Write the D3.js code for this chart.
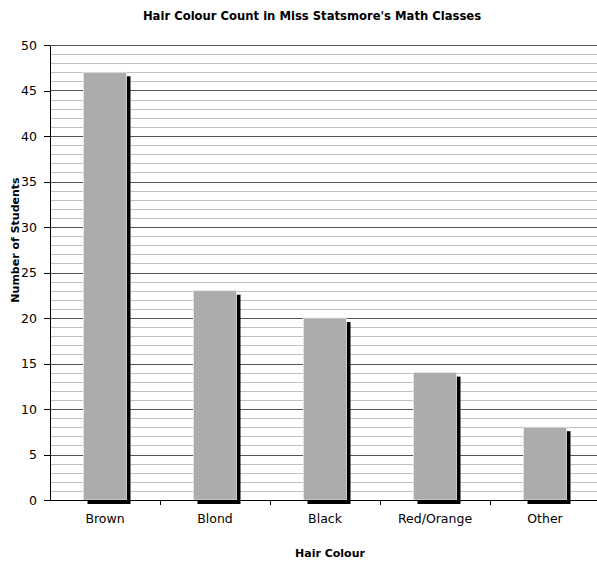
<!DOCTYPE html>
<meta charset="utf-8">
<style>
body { margin: 0; background: #fff; }
text { font-family: "DejaVu Sans", Verdana, sans-serif; }
.axis path, .axis line { stroke: #000; shape-rendering: crispEdges; }
.axis text { font-size: 12.5px; fill: #000; }
</style>
<body>
<script src="https://d3js.org/d3.v7.min.js"></script>
<script>
var categories = ["Brown", "Blond", "Black", "Red/Orange", "Other"];
var counts = [47, 23, 20, 14, 8];
var yTicks = [0, 5, 10, 15, 20, 25, 30, 35, 40, 45, 50];

var W = 597, H = 561;
var margin = {top: 45, right: -3, bottom: 61, left: 50},
    width = W - margin.left - margin.right,
    height = H - margin.top - margin.bottom;

var svg = d3.select("body").append("svg")
    .attr("width", W)
    .attr("height", H);

var g = svg.append("g")
    .attr("transform", "translate(" + margin.left + "," + margin.top + ")");

var x = d3.scaleBand().domain(categories).range([0, width]);
var y = d3.scaleLinear().domain([0, 50]).range([height, 0]);

// minor gridlines
g.selectAll(".minor")
  .data(d3.range(1, 50).filter(function(v) { return v % 5 != 0; }))
  .enter().append("line")
    .attr("x1", 0).attr("x2", width)
    .attr("y1", function(d) { return Math.round(y(d)) + 0.5; })
    .attr("y2", function(d) { return Math.round(y(d)) + 0.5; })
    .attr("stroke", "#c0c0c0");

// major gridlines
g.selectAll(".major")
  .data(yTicks.slice(1))
  .enter().append("line")
    .attr("x1", 0).attr("x2", width)
    .attr("y1", function(d) { return Math.round(y(d)) + 0.5; })
    .attr("y2", function(d) { return Math.round(y(d)) + 0.5; })
    .attr("stroke", "#555");

var barW = 43, shadow = 4;
function barX(d) { return x(d) + x.bandwidth() / 2 - barW / 2; }

// shadows
g.selectAll(".shadow")
  .data(counts)
  .enter().append("rect")
    .attr("x", function(d, i) { return barX(categories[i]) + shadow; })
    .attr("y", function(d) { return y(d) + shadow; })
    .attr("width", barW)
    .attr("height", function(d) { return height - y(d); })
    .attr("fill", "#000");

// bars
g.selectAll(".bar")
  .data(counts)
  .enter().append("rect")
    .attr("x", function(d, i) { return barX(categories[i]); })
    .attr("y", function(d) { return y(d); })
    .attr("width", barW)
    .attr("height", function(d) { return height - y(d); })
    .attr("fill", "#acacac")
    .attr("stroke", "#e6e6e6")
    .attr("stroke-width", 0.8);

g.append("g")
    .attr("class", "axis")
    .attr("transform", "translate(0," + height + ")")
    .call(d3.axisBottom(x).tickSize(0).tickPadding(14))
    .call(function(a) { a.select(".domain").remove(); });

// x axis line and ticks between categories
g.append("line")
    .attr("x1", 0).attr("x2", width)
    .attr("y1", height + 0.5).attr("y2", height + 0.5)
    .attr("stroke", "#000");
g.selectAll(".xtick")
  .data(categories.slice(1))
  .enter().append("line")
    .attr("x1", function(d) { return Math.round(x(d)) + 0.5; })
    .attr("x2", function(d) { return Math.round(x(d)) + 0.5; })
    .attr("y1", height).attr("y2", height + 5)
    .attr("stroke", "#000");

g.append("g")
    .attr("class", "axis")
    .call(d3.axisLeft(y).tickValues(yTicks).tickSize(6).tickSizeOuter(0).tickPadding(7))
    .call(function(a) { a.select(".domain").attr("stroke", "#000"); });

svg.append("text")
    .attr("x", 312).attr("y", 20)
    .attr("text-anchor", "middle")
    .style("font-size", "11.6px").style("font-weight", "bold")
    .text("Hair Colour Count in Miss Statsmore's Math Classes");

svg.append("text")
    .attr("transform", "translate(19,240) rotate(-90)")
    .attr("text-anchor", "middle")
    .style("font-size", "11px").style("font-weight", "bold")
    .text("Number of Students");

svg.append("text")
    .attr("x", 330).attr("y", 557)
    .attr("text-anchor", "middle")
    .style("font-size", "11px").style("font-weight", "bold")
    .text("Hair Colour");
</script>
</body>
